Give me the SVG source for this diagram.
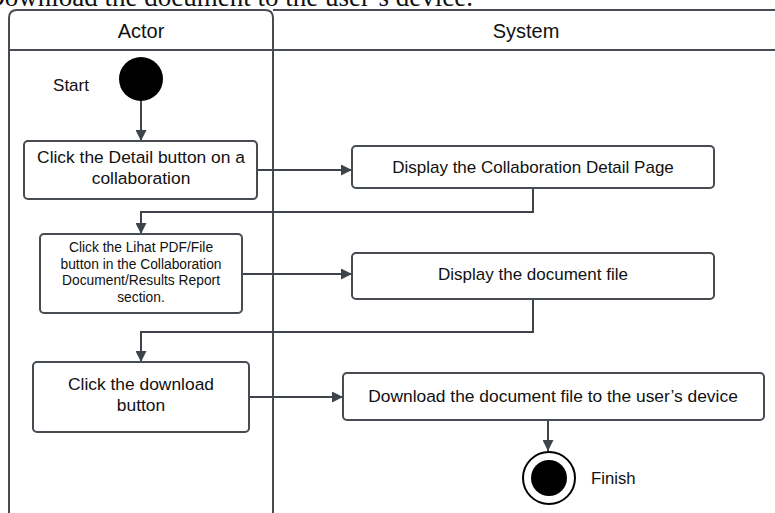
<svg xmlns="http://www.w3.org/2000/svg" width="775" height="513" viewBox="0 0 775 513">
<defs>
<style>
.lane{fill:none;stroke:#474b52;stroke-width:2}
.box{fill:#fff;stroke:#474b52;stroke-width:2}
.con{fill:none;stroke:#3f444c;stroke-width:2}
.t{font-family:"Liberation Sans",Arial,sans-serif;fill:#111;text-anchor:middle}
</style>
<marker id="ah" viewBox="0 0 10 10" refX="10" refY="5" markerWidth="5.5" markerHeight="5.5" orient="auto" markerUnits="strokeWidth">
<path d="M0,0 L10,5 L0,10 z" fill="#3f444c"/>
</marker>
</defs>
<rect width="775" height="513" fill="#fff"/>
<text x="473" y="6" font-family="Liberation Serif,'Times New Roman',serif" font-size="27" text-anchor="end" fill="#111">Download the document to the user’s device.</text>
<g id="swimlanes">
<path class="lane" d="M9,513 V18 Q9,10 17,10 H265 Q273,10 273,18 V513"/>
<line class="lane" x1="273" y1="10" x2="775" y2="10"/>
<line class="lane" x1="9" y1="50" x2="775" y2="50"/>
<text class="t" x="141" y="38" font-size="20">Actor</text>
<text class="t" x="526" y="38" font-size="20">System</text>
</g>
<g id="connectors">
<line class="con" x1="141" y1="101" x2="141" y2="141" marker-end="url(#ah)"/>
<line class="con" x1="257" y1="170" x2="352" y2="170" marker-end="url(#ah)"/>
<path class="con" d="M533,188 V212 H141 V234" marker-end="url(#ah)"/>
<line class="con" x1="242" y1="274" x2="352" y2="274" marker-end="url(#ah)"/>
<path class="con" d="M533,299 V332 H141 V362" marker-end="url(#ah)"/>
<line class="con" x1="249" y1="397" x2="343" y2="397" marker-end="url(#ah)"/>
<line class="con" x1="548" y1="420" x2="548" y2="451" marker-end="url(#ah)"/>
</g>
<g id="start">
<circle cx="141" cy="79" r="22" fill="#000"/>
<text x="71" y="91" font-family="Liberation Sans,Arial,sans-serif" font-size="17" text-anchor="middle" fill="#111">Start</text>
</g>
<g id="n1">
<rect class="box" x="24" y="141" width="233" height="58" rx="4"/>
<text class="t" x="141" y="163" font-size="17.4">Click the Detail button on a</text>
<text class="t" x="141" y="184" font-size="17.4">collaboration</text>
</g>
<g id="n2">
<rect class="box" x="352" y="146" width="362" height="42" rx="4"/>
<text class="t" x="533" y="173" font-size="17">Display the Collaboration Detail Page</text>
</g>
<g id="n3">
<rect class="box" x="40" y="234" width="202" height="79" rx="4"/>
<text class="t" x="141" y="252" font-size="13.8">Click the Lihat PDF/File</text>
<text class="t" x="141" y="269" font-size="13.8">button in the Collaboration</text>
<text class="t" x="141" y="285" font-size="13.8">Document/Results Report</text>
<text class="t" x="141" y="302" font-size="13.8">section.</text>
</g>
<g id="n4">
<rect class="box" x="352" y="253" width="362" height="46" rx="4"/>
<text class="t" x="533" y="280" font-size="17">Display the document file</text>
</g>
<g id="n5">
<rect class="box" x="33" y="362" width="216" height="70" rx="4"/>
<text class="t" x="141" y="390" font-size="17.4">Click the download</text>
<text class="t" x="141" y="411" font-size="17.4">button</text>
</g>
<g id="n6">
<rect class="box" x="343" y="373" width="421" height="47" rx="4"/>
<text class="t" x="553" y="402" font-size="17.4">Download the document file to the user’s device</text>
</g>
<g id="finish">
<circle cx="549" cy="478" r="26" fill="#fff" stroke="#000" stroke-width="2"/>
<circle cx="549" cy="478" r="18" fill="#000"/>
<text x="591" y="484" font-family="Liberation Sans,Arial,sans-serif" font-size="16.7" fill="#111">Finish</text>
</g>
</svg>
